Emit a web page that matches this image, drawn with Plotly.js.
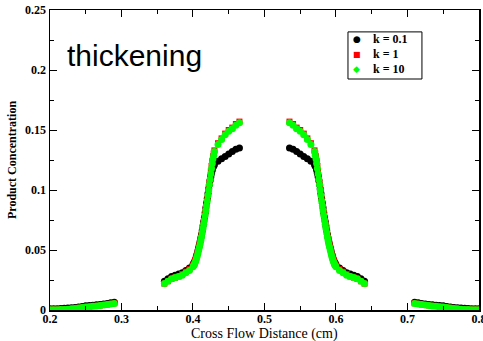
<!DOCTYPE html>
<html>
<head>
<meta charset="utf-8">
<script src="https://cdn.plot.ly/plotly-3.0.1.min.js"></script>
<style>html,body{margin:0;padding:0;background:#fff;}#chart{width:483px;height:341px;}</style>
</head>
<body>
<div id="chart"></div>
<script>
// Cross-flow positions (cm)
const xDist = [
  0.200,0.205,0.210,0.215,0.220,0.225,0.230,0.235,0.240,0.245,0.250,0.255,0.260,0.265,0.270,0.275,0.280,0.285,0.290,
  0.360,0.365,0.370,0.375,0.380,0.385,0.390,0.395,
  0.400,0.401,0.402,0.403,0.404,0.405,0.406,0.407,0.408,0.409,0.410,0.411,0.412,0.413,0.414,0.415,0.416,0.417,0.418,0.419,0.420,0.421,0.422,0.423,0.424,0.425,0.426,0.427,0.428,0.429,0.430,
  0.435,0.440,0.445,0.450,0.455,0.460,0.465,
  0.535,0.540,0.545,0.550,0.555,0.560,0.565,
  0.570,0.571,0.572,0.573,0.574,0.575,0.576,0.577,0.578,0.579,0.580,0.581,0.582,0.583,0.584,0.585,0.586,0.587,0.588,0.589,0.590,0.591,0.592,0.593,0.594,0.595,0.596,0.597,0.598,0.599,0.600,
  0.605,0.610,0.615,0.620,0.625,0.630,0.635,0.640,
  0.710,0.715,0.720,0.725,0.730,0.735,0.740,0.745,0.750,0.755,0.760,0.765,0.770,0.775,0.780,0.785,0.790,0.795,0.800
];
// Product concentration, k = 0.1
const yK01 = [
  0.0010,0.0010,0.0010,0.0012,0.0014,0.0016,0.0018,0.0020,0.0025,0.0030,0.0035,0.0037,0.0040,0.0043,0.0046,0.0050,0.0055,0.0060,0.0065,
  0.024,0.026,0.028,0.029,0.030,0.031,0.033,0.035,
  0.038,0.039,0.040,0.0415,0.043,0.045,0.047,0.0495,0.052,0.0545,0.057,0.060,0.063,0.0665,0.070,0.0735,0.077,0.081,0.085,0.089,0.093,0.097,0.101,0.1045,0.108,0.111,0.114,0.1165,0.119,0.120,0.121,
  0.124,0.126,0.128,0.130,0.132,0.134,0.135,
  0.135,0.134,0.132,0.130,0.128,0.126,0.124,
  0.121,0.120,0.119,0.1165,0.114,0.111,0.108,0.1045,0.101,0.097,0.093,0.089,0.085,0.081,0.077,0.0735,0.070,0.0665,0.063,0.060,0.057,0.0545,0.052,0.0495,0.047,0.045,0.043,0.0415,0.040,0.039,0.038,
  0.035,0.033,0.031,0.030,0.029,0.028,0.026,0.024,
  0.0065,0.0060,0.0055,0.0050,0.0046,0.0043,0.0040,0.0037,0.0035,0.0030,0.0025,0.0020,0.0018,0.0016,0.0014,0.0012,0.0010,0.0010,0.0010
];
// Product concentration, k = 1
const yK1 = [
  0.0004,0.0004,0.0004,0.0005,0.0006,0.0008,0.0011,0.0014,0.0018,0.0022,0.0026,0.0029,0.0032,0.0035,0.0038,0.0042,0.0046,0.0051,0.0056,
  0.022,0.024,0.026,0.027,0.028,0.030,0.032,0.034,
  0.037,0.038,0.039,0.041,0.043,0.045,0.047,0.0495,0.052,0.0545,0.057,0.060,0.063,0.0665,0.070,0.0735,0.077,0.081,0.085,0.089,0.093,0.0975,0.102,0.1065,0.111,0.1155,0.120,0.124,0.128,0.1305,0.133,
  0.139,0.143,0.147,0.150,0.152,0.155,0.157,
  0.157,0.155,0.152,0.150,0.147,0.143,0.139,
  0.133,0.1305,0.128,0.124,0.120,0.1155,0.111,0.1065,0.102,0.0975,0.093,0.089,0.085,0.081,0.077,0.0735,0.070,0.0665,0.063,0.060,0.057,0.0545,0.052,0.0495,0.047,0.045,0.043,0.041,0.039,0.038,0.037,
  0.034,0.032,0.030,0.028,0.027,0.026,0.024,0.022,
  0.0056,0.0051,0.0046,0.0042,0.0038,0.0035,0.0032,0.0029,0.0026,0.0022,0.0018,0.0014,0.0011,0.0008,0.0006,0.0005,0.0004,0.0004,0.0004
];
// Product concentration, k = 10
const yK10 = [
  0.0003,0.0003,0.0003,0.0004,0.0005,0.0007,0.0010,0.0013,0.0017,0.0021,0.0025,0.0028,0.0031,0.0034,0.0037,0.0041,0.0045,0.0050,0.0055,
  0.022,0.024,0.026,0.027,0.028,0.029,0.031,0.033,
  0.036,0.037,0.038,0.0395,0.041,0.043,0.045,0.0475,0.050,0.0525,0.055,0.058,0.061,0.0645,0.068,0.0715,0.075,0.079,0.083,0.087,0.091,0.0955,0.100,0.1045,0.109,0.1135,0.118,0.122,0.126,0.129,0.132,
  0.138,0.142,0.146,0.149,0.151,0.154,0.156,
  0.156,0.154,0.151,0.149,0.146,0.142,0.138,
  0.132,0.129,0.126,0.122,0.118,0.1135,0.109,0.1045,0.100,0.0955,0.091,0.087,0.083,0.079,0.075,0.0715,0.068,0.0645,0.061,0.058,0.055,0.0525,0.050,0.0475,0.045,0.043,0.041,0.0395,0.038,0.037,0.036,
  0.033,0.031,0.029,0.028,0.027,0.026,0.024,0.022,
  0.0055,0.0050,0.0045,0.0041,0.0037,0.0034,0.0031,0.0028,0.0025,0.0021,0.0017,0.0013,0.0010,0.0007,0.0005,0.0004,0.0003,0.0003,0.0003
];
const seriesNames = ['k = 0.1', 'k = 1', 'k = 10'];
const seriesColors = ['#000000', '#ff0000', '#00ff00'];
const legendGlyphs = ['\u25CF', '\u25A0', '\u25C6'];
const xTickVals = [0.2, 0.3, 0.4, 0.5, 0.6, 0.7, 0.8];
const xTickText = ['0.2', '0.3', '0.4', '0.5', '0.6', '0.7', '0.8'];
const yTickVals = [0, 0.05, 0.1, 0.15, 0.2, 0.25];
const yTickText = ['0', '0.05', '0.1', '0.15', '0.2', '0.25'];
const xTitle = 'Cross Flow Distance (cm)';
const yTitle = 'Product Concentration';

const serif = 'Liberation Serif, Times New Roman, serif';
const bold = s => '<b>' + s + '</b>';
const ySeries = [yK01, yK1, yK10];
const symbols = ['circle', 'square', 'circle'];
const sizes = [7, 6, 7];
const traces = ySeries.map((ys, i) => ({
  x: xDist, y: ys, name: seriesNames[i], type: 'scatter', mode: 'markers',
  marker: {color: seriesColors[i], size: sizes[i], symbol: symbols[i]}
}));

// legend drawn as a compact box (Plotly's native legend rows are too tall)
const legX0 = 0.6946, legX1 = 0.867, legY0 = 0.77, legY1 = 0.927;
const rowY = [0.904, 0.853, 0.802];
const annotations = [{
  text: 'thickening', xref: 'paper', yref: 'paper', x: 0.035, y: 0.85,
  xanchor: 'left', yanchor: 'middle', showarrow: false,
  font: {family: 'Liberation Sans, Arial, sans-serif', size: 30, color: '#000'}
}, {
  text: xTitle, xref: 'paper', yref: 'paper', x: 0.5, y: -0.081,
  xanchor: 'center', yanchor: 'middle', showarrow: false,
  font: {family: serif, size: 14, color: '#000'}
}];
seriesNames.forEach((nm, i) => {
  annotations.push({
    text: legendGlyphs[i], xref: 'paper', yref: 'paper', x: 0.7156, y: rowY[i],
    xanchor: 'center', yanchor: 'middle', showarrow: false,
    font: {family: 'DejaVu Sans', size: i === 1 ? 8 : 9, color: seriesColors[i]}
  });
  annotations.push({
    text: bold(nm), xref: 'paper', yref: 'paper', x: 0.748, y: rowY[i],
    xanchor: 'left', yanchor: 'middle', showarrow: false,
    font: {family: serif, size: 12, color: '#000'}
  });
});

const axisCommon = {
  showgrid: false, zeroline: false, showline: true, linecolor: '#000', linewidth: 1.5,
  mirror: 'allticks', ticks: 'inside', ticklen: 7, tickcolor: '#000', tickwidth: 1,
  tickfont: {family: serif, size: 12, color: '#000'}
};
const layout = {
  width: 483, height: 341,
  margin: {l: 50, r: 4, t: 10, b: 31},
  paper_bgcolor: '#fff', plot_bgcolor: '#fff',
  showlegend: false,
  xaxis: Object.assign({}, axisCommon, {
    range: [0.2, 0.8001], tickmode: 'array', tickvals: xTickVals, ticktext: xTickText.map(bold),
    ticklabelstandoff: -3, ticklabeloverflow: 'allow',
    minor: {dtick: 0.05, tick0: 0.2, ticks: 'inside', ticklen: 4, tickcolor: '#000'}
  }),
  yaxis: Object.assign({}, axisCommon, {
    range: [0, 0.25], tickmode: 'array', tickvals: yTickVals, ticktext: yTickText.map(bold),
    minor: {dtick: 0.025, tick0: 0, ticks: 'inside', ticklen: 4, tickcolor: '#000'},
    title: {text: bold(yTitle), font: {family: serif, size: 12, color: '#000'}, standoff: 6}
  }),
  shapes: [{
    type: 'rect', xref: 'paper', yref: 'paper', x0: legX0, x1: legX1, y0: legY0, y1: legY1,
    line: {color: '#000', width: 1}, fillcolor: '#fff', layer: 'above'
  }],
  annotations: annotations
};
Plotly.newPlot('chart', traces, layout, {displayModeBar: false, staticPlot: true});
</script>
</body>
</html>
